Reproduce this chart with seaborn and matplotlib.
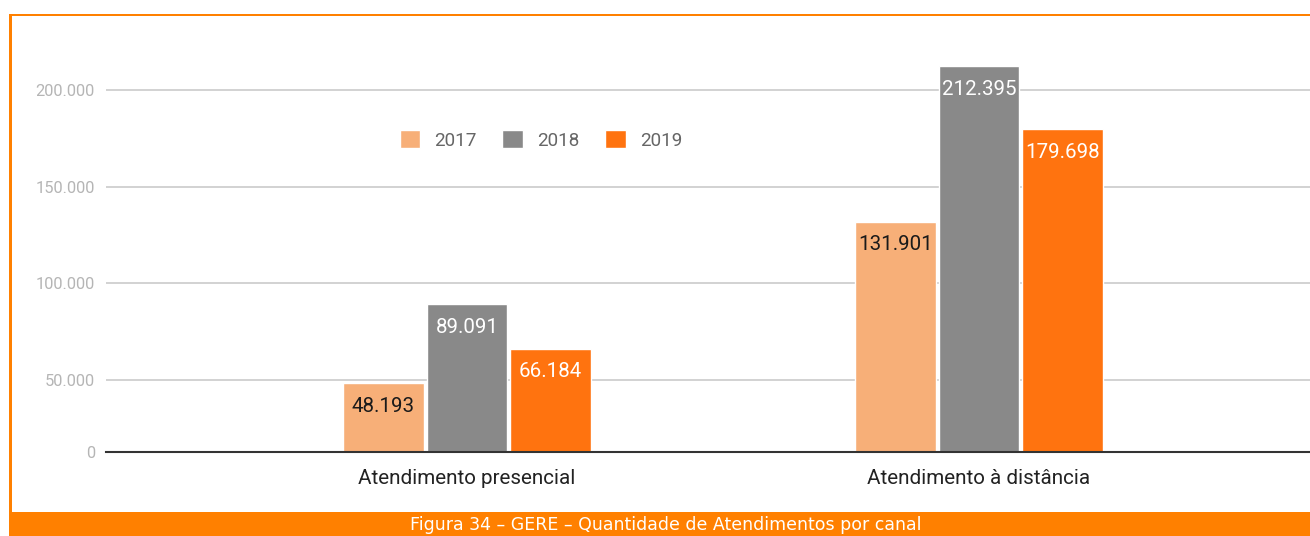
import matplotlib
matplotlib.use("Agg")
import matplotlib.pyplot as plt
from matplotlib.patches import Rectangle
import seaborn as sns
import pandas as pd

# Data
canais = ["Atendimento presencial", "Atendimento à distância"]
anos = ["2017", "2018", "2019"]
v2017 = [48193, 131901]
v2018 = [89091, 212395]
v2019 = [66184, 179698]
cores = ["#F7AF78", "#898989", "#FF730F"]
cor_rotulo = ["#1a1a1a", "white", "white"]
yticks = [50000, 100000, 150000, 200000]
legenda_titulo = "Figura 34 – GERE – Quantidade de Atendimentos por canal"

df = pd.DataFrame({
    "canal": canais * 3,
    "ano": [a for a in anos for _ in canais],
    "valor": v2017 + v2018 + v2019,
})

sns.set_theme(style="white")
plt.rcParams["font.family"] = ["Roboto", "DejaVu Sans"]

W, H = 1310, 536
fig = plt.figure(figsize=(W / 100, H / 100), dpi=100)
fig.patch.set_facecolor("white")

def fx(px):
    return px / W

def fy(py):
    return 1 - py / H

ax_left, ax_right, ax_top, ax_bot = 106, 1310, 20, 452
ax = fig.add_axes([fx(ax_left), fy(ax_bot), fx(ax_right - ax_left), (ax_bot - ax_top) / H])

sns.barplot(data=df, x="canal", y="valor", hue="ano", order=canais, hue_order=anos,
            palette=cores, width=0.49, gap=0.035, saturation=1, ax=ax, legend=True)

ymin, ymax = 12760, 236200
ax.set_ylim(ymin, ymax)
ax.set_xlim(-0.705, 1.6465)

ax.set_yticks([ymin] + yticks)
ax.set_yticklabels(["0"] + [f"{t:,}".replace(",", ".") for t in yticks])
ax.tick_params(axis="y", length=0, pad=8, labelsize=11.8, labelcolor="#b5b5b5")
ax.tick_params(axis="x", length=0, pad=12, labelsize=14.9, labelcolor="#222222")
ax.set_xlabel("")
ax.set_ylabel("")
for t in yticks:
    ax.axhline(t, color="#cfcfcf", lw=1.3, zorder=0)
for s in ["top", "right", "left"]:
    ax.spines[s].set_visible(False)
ax.spines["bottom"].set_color("#333333")
ax.spines["bottom"].set_linewidth(1.5)
ax.set_facecolor("white")

# value labels inside the top of each bar
for cont, cor in zip(ax.containers, cor_rotulo):
    for bar in cont:
        v = bar.get_height()
        ax.annotate(f"{int(round(v)):,}".replace(",", "."),
                    (bar.get_x() + bar.get_width() / 2, v),
                    xytext=(0, -23), textcoords="offset pixels",
                    ha="center", va="center", fontsize=14.8, color=cor)

leg = ax.legend(loc="center", bbox_to_anchor=((541 - ax_left) / (ax_right - ax_left), (ax_bot - 140) / (ax_bot - ax_top)),
                ncol=3, frameon=False, fontsize=13.6, handlelength=1.1, handleheight=1.1,
                columnspacing=1.35, handletextpad=0.75)
for t in leg.get_texts():
    t.set_color("#666666")

# orange frame and caption band
laranja = "#FF8000"
fig.add_artist(Rectangle((fx(9), fy(16)), fx(W - 9), 2.5 / H, transform=fig.transFigure,
                         color=laranja, lw=0))
fig.add_artist(Rectangle((fx(9), fy(512)), 2.5 / W, (512 - 14) / H, transform=fig.transFigure,
                         color=laranja, lw=0))
fig.add_artist(Rectangle((fx(9), 0), fx(W - 9), 24 / H, transform=fig.transFigure,
                         color=laranja, lw=0))
fig.text(fx(666), fy(525), legenda_titulo, ha="center", va="center", color="white",
         fontsize=12.5, family=["Liberation Sans Narrow", "DejaVu Sans"])

fig.savefig("out.png", dpi=100)
